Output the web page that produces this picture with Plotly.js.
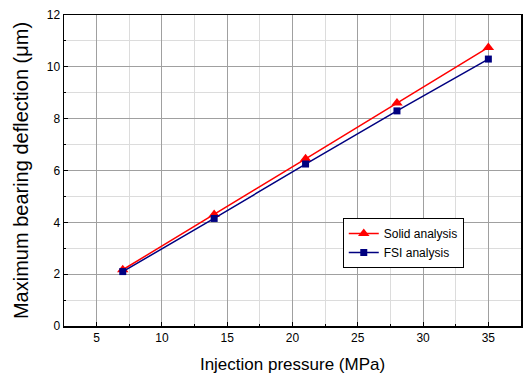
<!DOCTYPE html>
<html>
<head>
<meta charset="utf-8">
<script src="https://cdn.plot.ly/plotly-3.0.1.min.js"></script>
<style>html,body{margin:0;padding:0;background:#fff;}#chart{width:525px;height:378px;}</style>
</head>
<body>
<div id="chart"></div>
<script>
const pressure = [7, 14, 21, 28, 35];
const solidAnalysis = [2.17, 4.3, 6.45, 8.6, 10.75];
const fsiAnalysis = [2.1, 4.15, 6.25, 8.3, 10.3];
const seriesNames = ['Solid analysis', 'FSI analysis'];

const traces = [
  {x: pressure, y: solidAnalysis, name: seriesNames[0], type: 'scatter', mode: 'lines+markers',
   line: {color: '#ff0000', width: 1.5}, marker: {symbol: 'triangle-up', size: 10, color: '#ff0000'}},
  {x: pressure, y: fsiAnalysis, name: seriesNames[1], type: 'scatter', mode: 'lines+markers',
   line: {color: '#000080', width: 1.5}, marker: {symbol: 'square', size: 7, color: '#000080'}}
];

const font = {family: 'Liberation Sans, Arial, sans-serif', color: '#000'};
const layout = {
  width: 525, height: 378,
  margin: {l: 64, r: 4, t: 15, b: 52},
  paper_bgcolor: '#fff', plot_bgcolor: '#fff',
  font: font,
  showlegend: true,
  legend: {x: 0.61, y: 0.347, xanchor: 'left', yanchor: 'top', bordercolor: '#000', borderwidth: 1,
           bgcolor: '#fff', font: {size: 12, family: font.family}, tracegroupgap: 0},
  xaxis: {
    range: [2.5, 37.5], tickvals: [5, 10, 15, 20, 25, 30, 35], ticks: 'inside', ticklen: 4,
    tickcolor: '#000', showline: true, mirror: true, linecolor: '#000', linewidth: 1.5,
    showgrid: true, gridcolor: '#a0a0a0', gridwidth: 1, zeroline: false,
    tickfont: {size: 12, family: font.family},
    minor: {dtick: 2.5, tick0: 2.5, showgrid: true, gridcolor: '#dcdcdc', ticks: 'inside', ticklen: 2, tickcolor: '#000'},
    title: {text: 'Injection pressure (MPa)', font: {size: 17, family: font.family}, standoff: 14}
  },
  yaxis: {
    range: [0, 12], tickvals: [0, 2, 4, 6, 8, 10, 12], ticks: 'inside', ticklen: 4,
    tickcolor: '#000', showline: true, mirror: true, linecolor: '#000', linewidth: 1.5,
    showgrid: true, gridcolor: '#a0a0a0', gridwidth: 1, zeroline: false,
    tickfont: {size: 12, family: font.family},
    minor: {dtick: 1, tick0: 0, showgrid: true, gridcolor: '#dcdcdc', ticks: 'inside', ticklen: 2, tickcolor: '#000'},
    title: {text: 'Maximum bearing deflection (\u03bcm)', font: {size: 20, family: font.family}, standoff: 12}
  }
};
Plotly.newPlot('chart', traces, layout, {displayModeBar: false, staticPlot: true});
</script>
</body>
</html>
